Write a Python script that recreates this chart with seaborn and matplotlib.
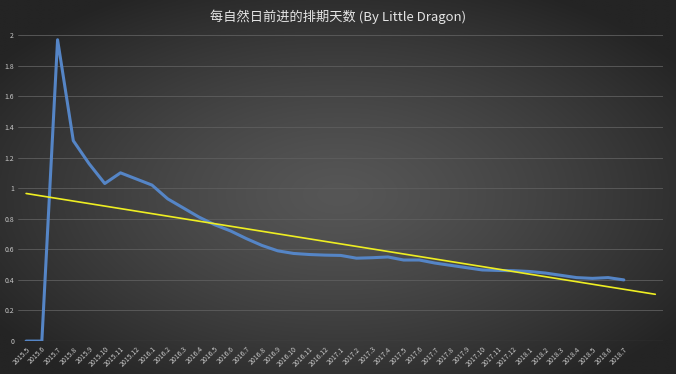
import numpy as np
import pandas as pd
import matplotlib
matplotlib.use("Agg")
import matplotlib.pyplot as plt
import seaborn as sns

months = ["2015.5", "2015.6", "2015.7", "2015.8", "2015.9", "2015.10", "2015.11", "2015.12",
          "2016.1", "2016.2", "2016.3", "2016.4", "2016.5", "2016.6", "2016.7", "2016.8",
          "2016.9", "2016.10", "2016.11", "2016.12",
          "2017.1", "2017.2", "2017.3", "2017.4", "2017.5", "2017.6", "2017.7", "2017.8",
          "2017.9", "2017.10", "2017.11", "2017.12",
          "2018.1", "2018.2", "2018.3", "2018.4", "2018.5", "2018.6", "2018.7"]
values = [0, 0, 1.97, 1.31, 1.16, 1.03, 1.10, 1.06,
          1.02, 0.93, 0.87, 0.81, 0.76, 0.72, 0.67, 0.625,
          0.59, 0.573, 0.566, 0.562,
          0.56, 0.542, 0.545, 0.55, 0.53, 0.53, 0.51, 0.495,
          0.48, 0.465, 0.462, 0.46,
          0.455, 0.445, 0.43, 0.415, 0.41, 0.415, 0.40]
forecast_periods = 2
title = "每自然日前进的排期天数 (By Little Dragon)"
yticks = [0, 0.2, 0.4, 0.6, 0.8, 1, 1.2, 1.4, 1.6, 1.8, 2]
ytick_labels = ["0", "0.2", "0.4", "0.6", "0.8", "1", "1.2", "1.4", "1.6", "1.8", "2"]

sns.set_style("dark")
plt.rcParams["font.family"] = ["Noto Sans CJK SC", "DejaVu Sans"]

df = pd.DataFrame({"idx": np.arange(len(values)), "value": values})

fig = plt.figure(figsize=(6.76, 3.74), dpi=100)

# radial gradient background
bg = fig.add_axes([0, 0, 1, 1], zorder=-10)
yy, xx = np.mgrid[0:1:200j, 0:1:360j]
r = np.sqrt(((xx - 0.5) / 0.62) ** 2 + ((yy - 0.52) / 0.62) ** 2)
r = np.clip(r, 0, 1)
c_center, c_edge = 0x56 / 255, 0x24 / 255
g = c_center + (c_edge - c_center) * r ** 1.3
bg.imshow(np.dstack([g, g, g]), aspect="auto", extent=[0, 1, 0, 1], interpolation="bilinear")
bg.set_axis_off()

ax = fig.add_axes([0.027, 0.088, 0.954, 0.818])
ax.set_facecolor("none")

# trend line (linear fit, forecast 2 periods forward)
coef = np.polyfit(df["idx"], df["value"], 1)
tx = np.array([0, len(values) - 1 + forecast_periods])
trend = pd.DataFrame({"idx": tx, "value": np.polyval(coef, tx)})

sns.lineplot(data=df, x="idx", y="value", ax=ax, color="#5585c6", linewidth=2.2, zorder=3)
sns.lineplot(data=trend, x="idx", y="value", ax=ax, color="#eeee22", linewidth=1.2, zorder=4)

ax.set_xlim(-0.5, len(values) - 1 + forecast_periods + 0.5)
ax.set_ylim(0, 2)
ax.set_yticks(yticks)
ax.set_yticklabels(ytick_labels, color="#c8c8c8", fontsize=5)
ax.set_xticks(np.arange(len(months)))
ax.set_xticklabels(months, rotation=45, ha="right", rotation_mode="anchor",
                   color="#c8c8c8", fontsize=5)
ax.tick_params(axis="both", length=0, pad=3)
ax.set_xlabel("")
ax.set_ylabel("")
ax.grid(axis="y", color="#5e5e5e", linewidth=0.6)
ax.grid(axis="x", visible=False)
for s in ax.spines.values():
    s.set_visible(False)
ax.axhline(0, color="#707070", linewidth=0.8, zorder=2)

fig.text(0.5, 0.955, title, ha="center", va="center", color="#e4e4e4", fontsize=9.5)

fig.savefig("out.png", dpi=100)
